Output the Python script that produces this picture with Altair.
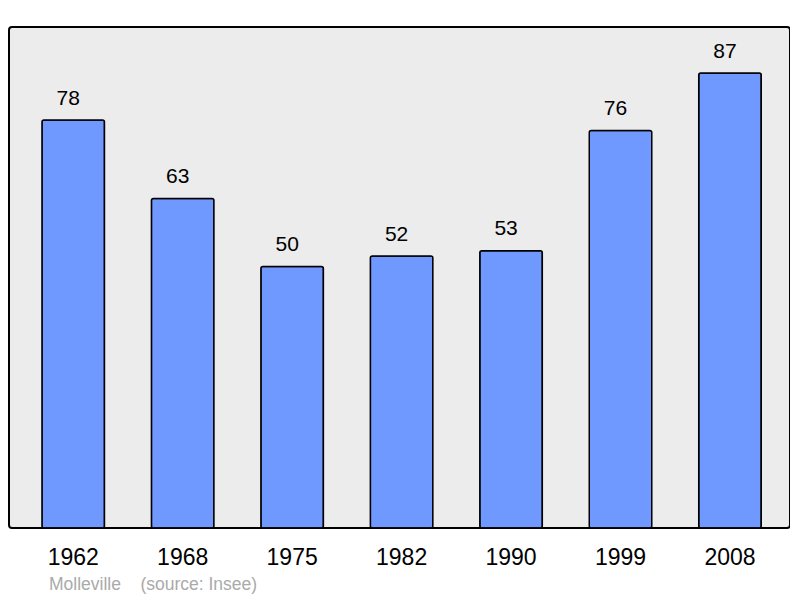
import altair as alt
import pandas as pd

years = ["1962", "1968", "1975", "1982", "1990", "1999", "2008"]
population = [78, 63, 50, 52, 53, 76, 87]
footer_text = ["Molleville\u00a0\u00a0\u00a0\u00a0(source: Insee)"]

df = pd.DataFrame({"year": years, "pop": population})

x = alt.X(
    "year:N",
    sort=None,
    scale=alt.Scale(paddingInner=0.429, paddingOuter=0.282, align=0.534),
    axis=alt.Axis(
        title=None, labelAngle=0, ticks=False, tickSize=0, domain=False, grid=False,
        labelFontSize=23, labelFont="Liberation Sans", labelColor="black",
        labelBaseline="alphabetic", labelPadding=36,
    ),
)
y = alt.Y("pop:Q", scale=alt.Scale(domain=[0, 95.8], nice=False, zero=True), axis=None)

bars = alt.Chart(df).mark_bar(
    fill="#7099ff", stroke="black", strokeWidth=1.5, cornerRadius=2
).encode(x=x, y=y)

labels = alt.Chart(df).mark_text(
    baseline="alphabetic", dy=-15.5, dx=-5, fontSize=21, font="Liberation Sans", color="black"
).encode(x=x, y=y, text="pop:Q")

footer = alt.Chart(pd.DataFrame({"t": footer_text})).mark_text(
    align="left", baseline="alphabetic", fontSize=17.5, font="Liberation Sans", color="#aaaaaa"
).encode(x=alt.value(40), y=alt.value(563), text="t:N")

chart = (
    alt.layer(bars, labels, footer)
    .properties(
        width=781, height=501,
        autosize=alt.AutoSizeParams(type="none"),
        padding={"left": 1, "top": 19, "right": 0, "bottom": 70},
        background="white",
    )
    .configure_view(stroke="black", strokeWidth=2, fill="#ececec", cornerRadius=3)
)

chart.save("out.html", embed_options={"renderer": "svg", "actions": False})
